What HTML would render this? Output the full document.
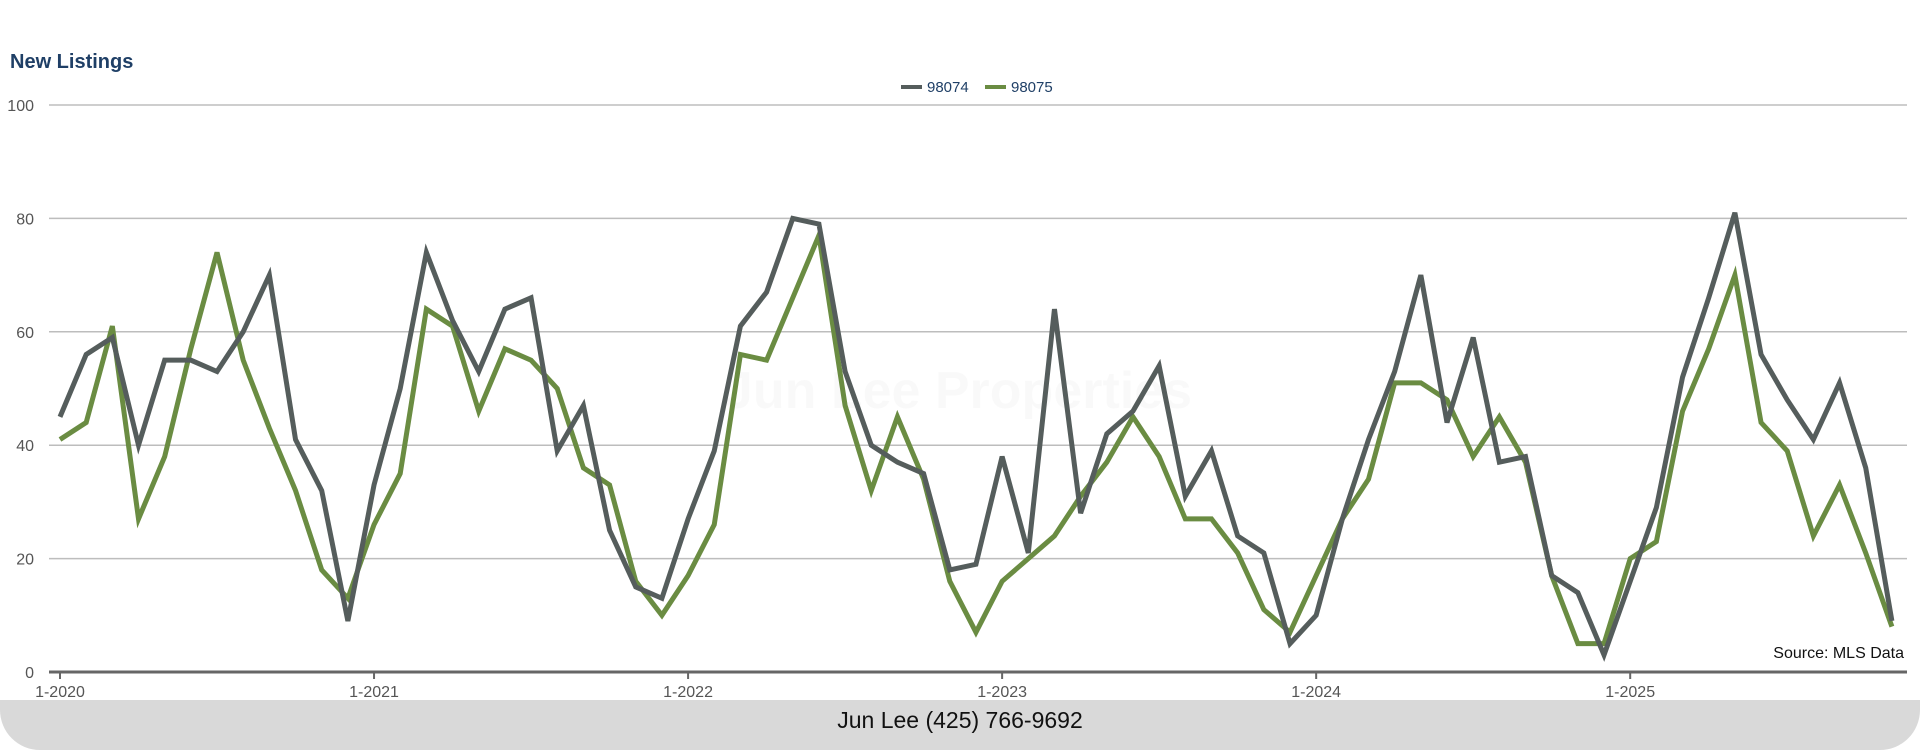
<!DOCTYPE html>
<html><head><meta charset="utf-8"><style>
body{margin:0;width:1920px;height:750px;background:#fff;overflow:hidden;font-family:"Liberation Sans",sans-serif;position:relative}
#footer{position:absolute;left:0;top:700px;width:1920px;height:50px;background:#d9d9d9;border-radius:0 0 40px 40px;text-align:center;font-size:23px;line-height:40px;color:#111}
</style></head><body>
<svg id="chart" width="1920" height="750" style="position:absolute;left:0;top:0">
<text x="10" y="68" font-size="20" font-weight="bold" fill="#1f3f66" font-family="Liberation Sans, sans-serif">New Listings</text>
<text x="958" y="408" font-size="52" font-weight="bold" fill="#000" fill-opacity="0.025" text-anchor="middle" font-family="Liberation Sans, sans-serif">Jun Lee Properties</text>
<g id="legend">
<line x1="901" y1="87" x2="922" y2="87" stroke="#555d5c" stroke-width="4"/>
<text x="927" y="92" font-size="15" fill="#1f3f66">98074</text>
<line x1="985" y1="87" x2="1006" y2="87" stroke="#6a8c42" stroke-width="4"/>
<text x="1011" y="92" font-size="15" fill="#1f3f66">98075</text>
</g>
<g id="grid"></g><g id="lines"></g>
<text x="1904" y="658" font-size="16" text-anchor="end" fill="#111">Source: MLS Data</text>
</svg>
<div id="footer">Jun Lee (425) 766-9692</div>
<script>
const yTicks=[0,20,40,60,80,100];
const xTickLabels=["1-2020","1-2021","1-2022","1-2023","1-2024","1-2025"];
const s98074=[45,56,59,40,55,55,53,60,70,41,32,9,33,50,74,62,53,64,66,39,47,25,15,13,27,39,61,67,80,79,53,40,37,35,18,19,38,21,64,28,42,46,54,31,39,24,21,5,10,27,41,53,70,44,59,37,38,17,14,3,16,29,52,66,81,56,48,41,51,36,9];
const s98075=[41,44,61,27,38,57,74,55,43,32,18,13,26,35,64,61,46,57,55,50,36,33,16,10,17,26,56,55,66,77,47,32,45,34,16,7,16,20,24,31,37,45,38,27,27,21,11,7,17,27,34,51,51,48,38,45,37,17,5,5,20,23,46,57,70,44,39,24,33,21,8];
const NS="http://www.w3.org/2000/svg";
const x0=60,mw=26.17,y0=672,yTop=105;
const X=i=>x0+i*mw, Y=v=>y0-(v/100)*(y0-yTop);
const grid=document.getElementById('grid'),lines=document.getElementById('lines');
function mk(t,a,p){const e=document.createElementNS(NS,t);for(const k in a)e.setAttribute(k,a[k]);p.appendChild(e);return e;}
yTicks.forEach(v=>{
 if(v>0){const l=mk('line',{x1:49,x2:1907,y1:Y(v),y2:Y(v),stroke:'#bdbdbd','stroke-width':1.5},grid);
 
 }
 const t=mk('text',{x:34,y:Y(v)+6,'font-size':16,fill:'#555','text-anchor':'end'},grid);t.textContent=v;
 
 
});
const ax=mk('line',{x1:49,x2:1907,y1:y0,y2:y0,stroke:'#666','stroke-width':3},grid);


xTickLabels.forEach((s,k)=>{
 const x=X(k*12);
 mk('line',{x1:x,x2:x,y1:y0,y2:y0+7,stroke:'#666','stroke-width':2},grid);
 const t=mk('text',{x:x,y:y0+25,'font-size':16,fill:'#555','text-anchor':'middle'},grid);t.textContent=s;
 
 
});
function series(d,c,n){
 const p=mk('polyline',{points:d.map((v,i)=>X(i)+','+Y(v)).join(' '),fill:'none',stroke:c,'stroke-width':5,'stroke-linejoin':'miter'},lines);
 
 
}
series(s98075,'#6a8c42','line-98075');
series(s98074,'#555d5c','line-98074');
</script>
</body></html>
